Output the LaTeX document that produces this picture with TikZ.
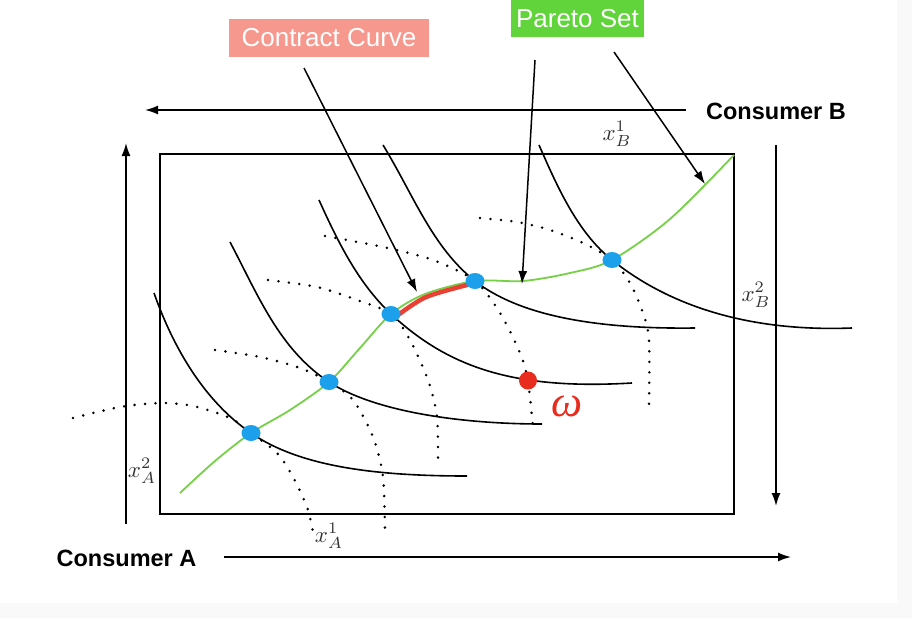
\documentclass[tikz,border=0pt]{standalone}
\usepackage{fontspec}
\setmainfont{Liberation Sans}
\newfontfamily\greekfont{Liberation Serif}
\usetikzlibrary{arrows.meta}

\definecolor{pagegray}{RGB}{249,249,249}
\definecolor{salmon}{RGB}{247,152,142}
\definecolor{paretogreen}{RGB}{96,212,58}
\definecolor{curvegreen}{RGB}{118,208,72}
\definecolor{contractred}{RGB}{232,44,30}
\definecolor{dotblue}{RGB}{28,160,236}
\definecolor{labelgray}{RGB}{50,50,50}

\newcommand\consumerfont{\fontsize{23.5}{26}\selectfont\bfseries}
\newcommand\tagfont{\fontsize{26}{30}\selectfont}

\begin{document}
\begin{tikzpicture}[x=1pt,y=-1pt,>={Latex[length=13pt,width=9pt]},
    axis/.style={line width=1.6pt},
    pointer/.style={line width=1.5pt,->},
    indiffA/.style={line width=1.6pt},
    indiffB/.style={line width=2.8pt,line cap=round,dash pattern=on 0pt off 10.5pt},
    tag/.style={font=\tagfont,text=white,inner sep=0pt,minimum height=38pt},
    consumer/.style={font=\consumerfont,inner sep=0pt},
    amount/.style={font=\fontsize{10}{12}\selectfont,scale=2.3,text=labelgray,inner sep=0pt}]

% page
\fill[pagegray] (0,0) rectangle (912,618);
\fill[white] (0,0) rectangle (897,603);
\useasboundingbox (0,0) rectangle (912,618);

% labels
\node[tag,fill=salmon,minimum width=200pt] (cc) at (329,38) {Contract Curve};
\node[tag,fill=paretogreen,minimum width=133pt,minimum height=37pt] (ps) at (577.5,18.5) {Pareto Set};
\node[consumer] (consB) at (776,111) {Consumer B};
\node[consumer] (consA) at (126.5,558) {Consumer A};
\node[amount] (xB1) at (617,134) {$x_B^1$};
\node[amount] (xB2) at (756,295) {$x_B^2$};
\node[amount] (xA2) at (142,471) {$x_A^2$};
\node[amount] (xA1) at (329,536) {$x_A^1$};
\node[font=\fontsize{44}{44}\selectfont\greekfont\itshape,text=contractred,inner sep=0pt] (omega) at (567,406) {ω};

% Edgeworth box
\coordinate (O_A) at (160,514);
\coordinate (O_B) at (734,154);
\draw[axis] (O_A) rectangle (O_B);

% direction arrows
\coordinate (bStart) at (686,110);
\coordinate (bEnd) at (145,110);
\coordinate (aStart) at (224,557);
\coordinate (aEnd) at (791,557);
\coordinate (lStart) at (126,524);
\coordinate (lEnd) at (126,143);
\coordinate (rStart) at (776,145);
\coordinate (rEnd) at (776,506);
\draw[axis,->] (bStart) -- (bEnd);
\draw[axis,->] (aStart) -- (aEnd);
\draw[axis,->] (lStart) -- (lEnd);
\draw[axis,->] (rStart) -- (rEnd);

% tangencies and endowment
\coordinate (t1) at (251,433);
\coordinate (t2) at (329,382);
\coordinate (t3) at (391,314);
\coordinate (t4) at (475,281);
\coordinate (t5) at (612,260);
\coordinate (endow) at (528,380.5);

% consumer B (dotted)
\draw[indiffB] plot[smooth] coordinates {(73,418) (120,407) (160,403) (193,406) (230,418) (251,433) (277,453) (293,477) (307,507) (313,532)};
\draw[indiffB] plot[smooth] coordinates {(215,350) (260,357) (300,368) (329,382) (353,400) (373,437) (383,477) (385,538)};
\draw[indiffB] plot[smooth] coordinates {(268,280) (317,287) (357,300) (391,314) (410,340) (428,380) (437,417) (438,467)};
\draw[indiffB] plot[smooth] coordinates {(325,236) (383,247) (433,260) (475,281) (500,313) (520,353) (528,381) (533,428)};
\draw[indiffB] plot[smooth] coordinates {(480,218) (517,222) (550,230) (583,243) (612,260) (630,283) (643,313) (649,340) (649,406)};

% consumer A (solid)
\draw[indiffA] (154,293) .. controls (173,347) and (204,401) .. (t1)
               .. controls (300,467) and (377,476) .. (467,476);
\draw[indiffA] (230,242) .. controls (258,295) and (279,349) .. (t2)
               .. controls (375,412) and (462,424) .. (542,424);
\draw[indiffA] (319,200) .. controls (337.5,241) and (358,283) .. (t3)
               .. controls (449,368) and (515,390) .. (632,383);
\draw[indiffA] (383,145) .. controls (413,194) and (432,247) .. (t4)
               .. controls (526,321) and (615,329) .. (695,328);
\draw[indiffA] (539,145) .. controls (557,186) and (577,232) .. (t5)
               .. controls (670,306.5) and (750,332) .. (852,328);

% pareto set and contract curve
\draw[curvegreen,line width=1.8pt] plot[smooth] coordinates {(180,493) (215,461) (251,433) (290,410) (329,382) (360,348) (391,314) (425,294) (475,281) (523,281) (570,273) (612,260) (670,219) (734,155)};
\draw[contractred,line width=4.5pt,line cap=round,opacity=0.9] plot[smooth] coordinates {(394,318) (425,297.5) (467,285)};

\foreach \t in {t1,t2,t3,t4,t5}
  \fill[dotblue] (\t) ellipse [x radius=9.5pt, y radius=8pt];
\fill[contractred] (endow) circle [radius=9pt];

% pointers
\coordinate (ccFrom) at (304,68);
\coordinate (ccTo) at (417,292);
\coordinate (psFrom1) at (535,60);
\coordinate (psTo1) at (522,284);
\coordinate (psFrom2) at (614,52);
\coordinate (psTo2) at (705,184);
\draw[pointer] (ccFrom) -- (ccTo);
\draw[pointer] (psFrom1) -- (psTo1);
\draw[pointer] (psFrom2) -- (psTo2);
\end{tikzpicture}
\end{document}
